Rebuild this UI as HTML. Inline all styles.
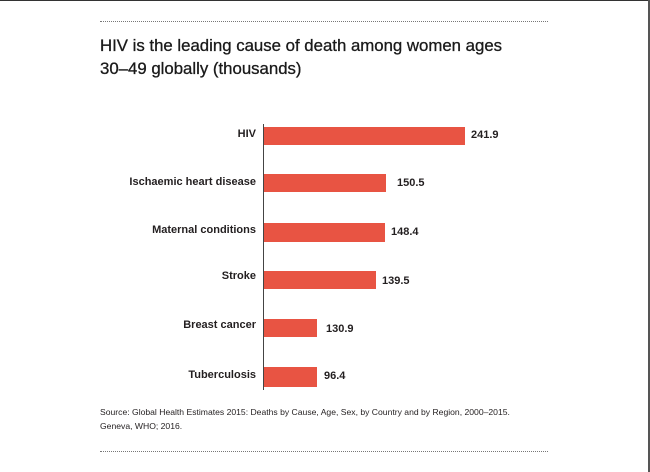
<!DOCTYPE html>
<html><head><style>
body{margin:0;width:650px;height:472px;background:#fff;position:relative;overflow:hidden;font-family:"Liberation Sans",sans-serif;color:#231f20}
.d{position:absolute;left:100px;width:448px;border-top:1.5px dotted #777}
.t{position:absolute;left:100px;font-size:16.8px;line-height:23px;color:#1a1a1a;-webkit-text-stroke:0.3px #1a1a1a}
.l{position:absolute;right:394px;font-size:11px;font-weight:bold;text-align:right;white-space:nowrap}
.b{position:absolute;left:264px;background:#e85443}
.v{position:absolute;font-size:11px;font-weight:bold}
.s{position:absolute;left:100px;font-size:8.6px;line-height:14px}
</style></head><body>
<div style="position:absolute;left:0;top:0;width:650px;height:1px;background:#333"></div>
<div style="position:absolute;right:0;top:0;width:2px;height:472px;background:#555"></div>
<div class="d" style="top:21px"></div>
<div class="t" style="top:34px">HIV is the leading cause of death among women ages<br>30–49 globally (thousands)</div>
<div style="position:absolute;left:263px;top:124px;width:1px;height:266px;background:#444"></div>
<div class="l" style="top:128px">HIV</div><div class="b" style="top:127px;width:201px;height:18px"></div><div class="v" style="left:471px;top:129px">241.9</div>
<div class="l" style="top:176px">Ischaemic heart disease</div><div class="b" style="top:174px;width:122px;height:18px"></div><div class="v" style="left:397px;top:177px">150.5</div>
<div class="l" style="top:224px">Maternal conditions</div><div class="b" style="top:223px;width:121px;height:19px"></div><div class="v" style="left:391px;top:226px">148.4</div>
<div class="l" style="top:270px">Stroke</div><div class="b" style="top:271px;width:112px;height:18px"></div><div class="v" style="left:382px;top:275px">139.5</div>
<div class="l" style="top:319px">Breast cancer</div><div class="b" style="top:319px;width:53px;height:18px"></div><div class="v" style="left:326px;top:323px">130.9</div>
<div class="l" style="top:369px">Tuberculosis</div><div class="b" style="top:367px;width:53px;height:20px"></div><div class="v" style="left:324px;top:370px">96.4</div>
<div class="s" style="top:405px">Source: Global Health Estimates 2015: Deaths by Cause, Age, Sex, by Country and by Region, 2000–2015.<br>Geneva, WHO; 2016.</div>
<div class="d" style="top:451px"></div>
</body></html>
